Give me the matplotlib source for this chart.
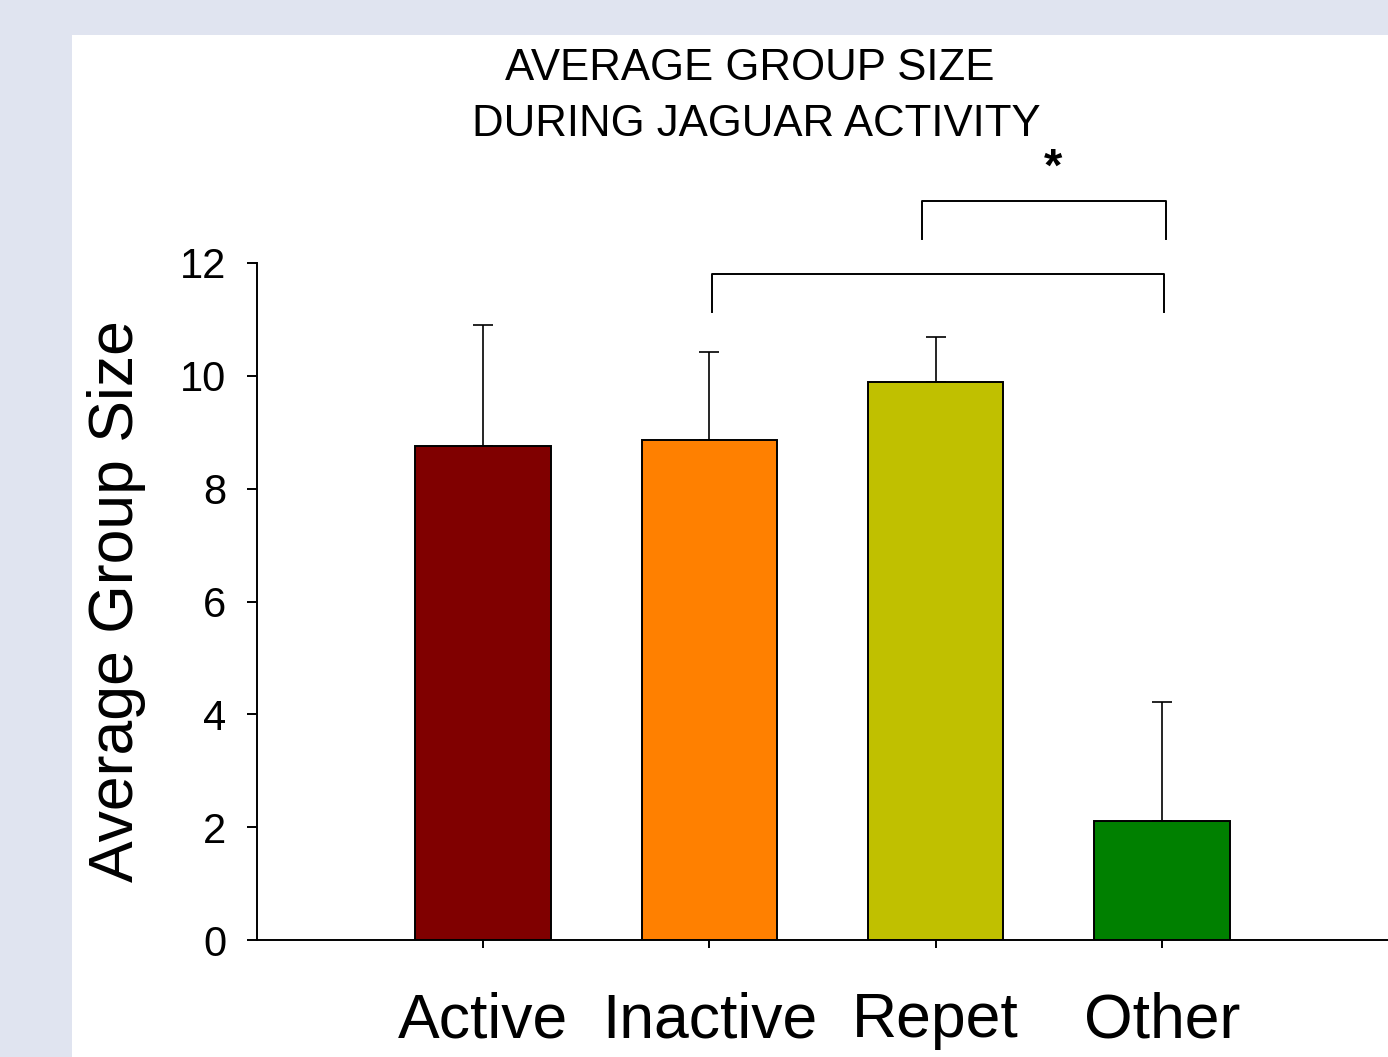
import matplotlib
matplotlib.use("Agg")
import matplotlib.pyplot as plt
from matplotlib.patches import Rectangle

plt.rcParams['font.family'] = ['Liberation Sans', 'DejaVu Sans']

categories = ["Active", "Inactive", "Repet", "Other"]
means = [8.76, 8.86, 9.89, 2.11]
errors = [2.14, 1.56, 0.80, 2.11]
colors = ["#800000", "#FF8000", "#C0C000", "#008000"]
yticks = [0, 2, 4, 6, 8, 10, 12]

W, H = 1388, 1057
fig = plt.figure(figsize=(W / 100, H / 100), dpi=100, facecolor="#E0E4F0")

# white panel behind the chart
fig.patches.append(Rectangle((72 / W, 0), 1 - 72 / W, 1 - 35 / H,
                             transform=fig.transFigure, facecolor="white",
                             edgecolor="none", zorder=-10))

ax = fig.add_axes([257 / W, (H - 940) / H, (W - 257) / W, (940 - 263) / H])
ax.set_facecolor("none")
ax.set_zorder(5)

x = list(range(len(categories)))
ax.bar(x, means, width=0.6, color=colors, edgecolor="black", linewidth=1.4, zorder=2)
ax.errorbar(x, means, yerr=[[0] * len(errors), errors], fmt="none",
            ecolor="black", elinewidth=1.2, capsize=7.5, capthick=1.2, zorder=1)

ax.set_xlim(-1.0, 4.0)
ax.set_ylim(0, 12)
ax.set_yticks(yticks)
ax.set_yticklabels([str(v) for v in yticks], fontsize=30)
ax.set_xticks(x)
ax.set_xticklabels(categories, fontsize=45)
ax.tick_params(axis="y", direction="out", length=7, width=1.4, pad=15)
ax.tick_params(axis="x", direction="out", length=6, width=1.4, pad=31)

for s in ["top", "right"]:
    ax.spines[s].set_visible(False)
for s in ["left", "bottom"]:
    ax.spines[s].set_linewidth(1.4)

ax.set_ylabel("Average Group Size", fontsize=45)
ax.yaxis.set_label_coords((146 - 257) / (W - 257), 0.5)

# significance brackets
lw = 1.4
ax.plot([1.01, 1.01, 3.01, 3.01], [11.13, 11.80, 11.80, 11.13],
        color="black", lw=lw, clip_on=False)
ax.plot([1.94, 1.94, 3.02, 3.02], [12.42, 13.10, 13.10, 12.42],
        color="black", lw=lw, clip_on=False)
ax.text(2.52, 13.68, "*", fontsize=34, fontweight="bold",
        ha="center", va="center", clip_on=False)

fig.text(749.5 / W, 1 - 80 / H, "AVERAGE GROUP SIZE", fontsize=31.5,
         ha="center", va="baseline")
fig.text(756.5 / W, 1 - 136 / H, "DURING JAGUAR ACTIVITY", fontsize=31.5,
         ha="center", va="baseline")

fig.savefig("out.png", dpi=100, facecolor=fig.get_facecolor())
